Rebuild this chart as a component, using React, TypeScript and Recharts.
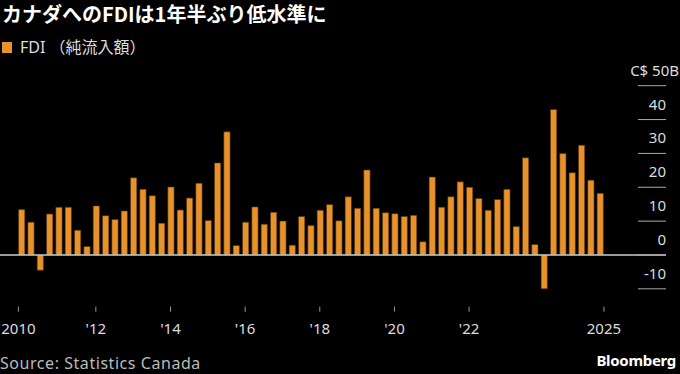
import { Bar, BarChart, ReferenceLine, XAxis, YAxis } from "recharts";

// quarterly FDI net inflows, C$ billions, 2010 Q1 .. 2025 Q3
const years = [2010, 2011, 2012, 2013, 2014, 2015, 2016, 2017, 2018, 2019, 2020, 2021, 2022, 2023, 2024, 2025];
const fdi = [
  13.4, 9.7, -4.5, 12.1,
  14.1, 14.1, 7.3, 2.5,
  14.5, 11.6, 10.5, 13.0,
  22.8, 19.4, 17.5, 9.4,
  20.1, 13.3, 16.8, 21.2,
  10.2, 27.2, 36.4, 2.8,
  9.7, 14.2, 9.1, 12.6,
  10.0, 2.9, 11.4, 8.7,
  13.2, 14.9, 10.1, 17.2,
  13.8, 25.1, 13.8, 12.5,
  12.2, 11.4, 11.7, 3.9,
  23.0, 14.1, 17.2, 21.6,
  20.0, 16.7, 13.2, 16.4,
  19.4, 8.4, 28.7, 3.1,
  -10.0, 43.0, 30.0, 24.3,
  32.4, 22.1, 18.2,
];
const xTickPos = [-0.3, 8, 16, 24, 32, 40, 48, 62.45];
const xTickLabels = ["2010", "'12", "'14", "'16", "'18", "'20", "'22", "2025"];
const yTicks = [-10, 0, 10, 20, 30, 40, 50];

const data = fdi.map((v, i) => ({
  i,
  quarter: `${years[Math.floor(i / 4)]} Q${(i % 4) + 1}`,
  fdi: v,
}));

const FONT = "'Noto Sans', 'Noto Sans CJK JP', sans-serif";
const PLOT_RIGHT = 666;

function YTick(props: any) {
  const { y, payload } = props;
  const v = payload.value;
  const x = PLOT_RIGHT;
  return (
    <g>
      <line x1={x - 28} x2={x} y1={y} y2={y} stroke="#aaa" strokeWidth={1} />
      <text
        x={v === 50 ? x + 13 : x}
        y={y - 10}
        textAnchor="end"
        fill="#ddd"
        fontSize={15}
        fontFamily={FONT}
      >
        {v === 50 ? "C$ 50B" : String(v)}
      </text>
    </g>
  );
}

function XTick(props: any) {
  const { x, y, payload } = props;
  const idx = xTickPos.indexOf(payload.value);
  return (
    <text x={x} y={y + 22} textAnchor="middle" fill="#ddd" fontSize={15} fontFamily={FONT}>
      {xTickLabels[idx]}
    </text>
  );
}

export default function App() {
  return (
    <div
      style={{
        position: "absolute",
        left: 0,
        top: 0,
        width: 680,
        height: 374,
        background: "#000",
        fontFamily: FONT,
      }}
    >
      <div
        style={{
          position: "absolute",
          left: 2,
          top: 1,
          width: 600,
          height: 26,
          fontSize: 20,
          fontWeight: 700,
          color: "#fff",
          fontFamily: "'Noto Sans CJK JP', 'Noto Sans', sans-serif",
          lineHeight: "26px",
        }}
      >
        カナダへのFDIは1年半ぶり低水準に
      </div>
      <div
        style={{
          position: "absolute",
          left: 2,
          top: 37,
          display: "flex",
          alignItems: "center",
          fontSize: 16,
          color: "#ddd",
          fontFamily: "'Noto Sans', 'Noto Sans CJK JP', sans-serif",
          lineHeight: "20px",
          whiteSpace: "nowrap",
        }}
      >
        <span style={{ display: "inline-block", width: 10, height: 11, background: "#e8922b", marginRight: 8 }} />
        FDI （純流入額）
      </div>
      <div style={{ position: "absolute", left: 0, top: 0 }}>
        <BarChart
          width={680}
          height={374}
          data={data}
          margin={{ top: 85.7, right: 0, left: 0, bottom: 37.3 }}
        >
          <XAxis
            dataKey="i"
            type="number"
            domain={[-2.27, 69.1]}
            ticks={xTickPos}
            interval={0}
            height={30}
            axisLine={false}
            tickLine={{ stroke: "#999" }}
            tickSize={5}
            tickMargin={0}
            tick={<XTick />}
            allowDataOverflow
          />
          <YAxis
            orientation="right"
            type="number"
            domain={[-15.28, 50]}
            ticks={yTicks}
            interval={0}
            width={680 - PLOT_RIGHT}
            axisLine={false}
            tickLine={false}
            tickSize={0}
            tickMargin={0}
            tick={<YTick />}
            allowDataOverflow
          />
          <Bar dataKey="fdi" fill="#e8922b" stroke="#4a2e0a" strokeWidth={0.6} barSize={6.3} isAnimationActive={false} />
          <ReferenceLine y={0} stroke="#ccc" strokeWidth={1.5} />
        </BarChart>
      </div>
      <div
        style={{
          position: "absolute",
          left: 0,
          top: 353,
          fontSize: 16,
          letterSpacing: 0.55,
          color: "#bbb",
          lineHeight: "20px",
          whiteSpace: "nowrap",
        }}
      >
        Source: Statistics Canada
      </div>
      <div
        style={{
          position: "absolute",
          right: 4,
          top: 350,
          fontSize: 15,
          fontWeight: 700,
          color: "#fff",
          lineHeight: "20px",
          letterSpacing: -0.3,
        }}
      >
        Bloomberg
      </div>
    </div>
  );
}
